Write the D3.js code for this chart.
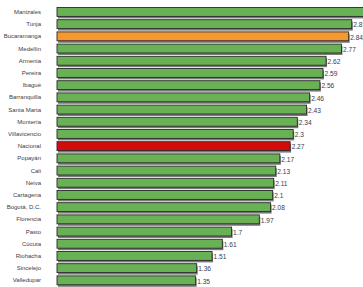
<!DOCTYPE html>
<html>
<head>
<meta charset="utf-8">
<script src="https://cdn.jsdelivr.net/npm/d3@7"></script>
<style>
  html, body { margin: 0; padding: 0; background: #fff; overflow: hidden; }
  svg { display: block; }
  .cat { font-family: "Liberation Sans", Arial, sans-serif; font-size: 6px; fill: #404040; }
  .val { font-family: "Liberation Sans", Arial, sans-serif; font-size: 6.6px; fill: #3a3a4a; }
</style>
</head>
<body>
<svg id="chart" width="363" height="287"></svg>
<script>
  // ── Data ────────────────────────────────────────────────────────────────
  const cities = ['Manizales', 'Tunja', 'Bucaramanga', 'Medellín', 'Armenia', 'Pereira', 'Ibagué',
    'Barranquilla', 'Santa Marta', 'Montería', 'Villavicencio', 'Nacional', 'Popayán', 'Cali',
    'Neiva', 'Cartagena', 'Bogotá, D.C.', 'Florencia', 'Pasto', 'Cúcuta', 'Riohacha',
    'Sincelejo', 'Valledupar'];
  const values = [3.0, 2.87, 2.84, 2.77, 2.62, 2.59, 2.56, 2.46, 2.43, 2.34, 2.3, 2.27, 2.17,
    2.13, 2.11, 2.1, 2.08, 1.97, 1.7, 1.61, 1.51, 1.36, 1.35];
  const highlight = { 'Bucaramanga': '#f7982f', 'Nacional': '#d40b0b' };
  const baseColor = '#68b154';

  const data = cities.map((c, i) => ({ city: c, value: values[i] }));

  // ── Layout ──────────────────────────────────────────────────────────────
  const svg = d3.select('#chart');
  const x0 = 57;
  const x = d3.scaleLinear().domain([0, 1]).range([x0, x0 + 102.7]);
  const y = d3.scaleBand().domain(cities).range([7.5, 284.8]).paddingInner(0.27).paddingOuter(0);

  // shadows
  svg.append('g').selectAll('rect').data(data).join('rect')
    .attr('x', x0 + 1)
    .attr('y', d => y(d.city) + 2)
    .attr('width', d => x(d.value) - x0)
    .attr('height', y.bandwidth())
    .attr('fill', '#7b7b7b');

  // bars
  svg.append('g').selectAll('rect').data(data).join('rect')
    .attr('x', x0)
    .attr('y', d => y(d.city))
    .attr('width', d => x(d.value) - x0)
    .attr('height', y.bandwidth())
    .attr('fill', d => highlight[d.city] || baseColor)
    .attr('stroke', '#2b2b2b')
    .attr('stroke-width', 0.9);

  // category labels
  svg.append('g').selectAll('text').data(data).join('text')
    .attr('class', 'cat')
    .attr('x', 41)
    .attr('y', d => y(d.city) + y.bandwidth() / 2)
    .attr('dy', '0.35em')
    .attr('text-anchor', 'end')
    .text(d => d.city);

  // value labels
  svg.append('g').selectAll('text').data(data).join('text')
    .attr('class', 'val')
    .attr('x', d => x(d.value) + 1.5)
    .attr('y', d => y(d.city) + y.bandwidth() / 2 + 1)
    .attr('dy', '0.35em')
    .text(d => d.value);
</script>
</body>
</html>
